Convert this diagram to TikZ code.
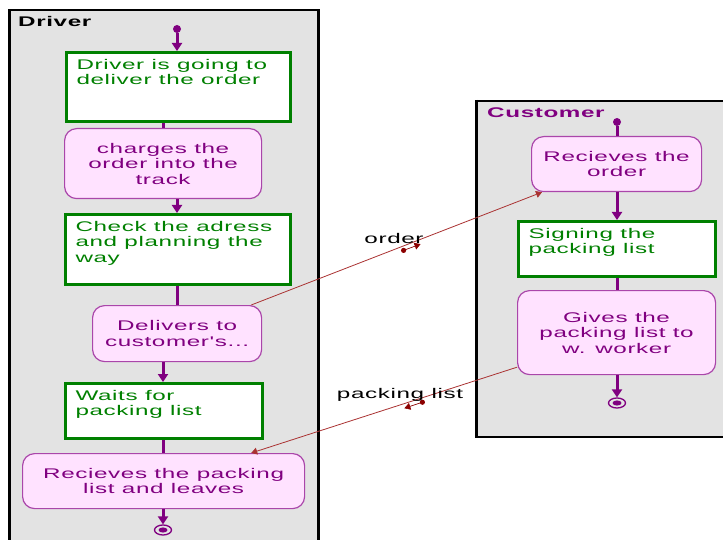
\documentclass[tikz,border=0pt]{standalone}
\usepackage{fontspec}
\usetikzlibrary{arrows.meta,calc,shapes.geometric}
\newfontfamily\uifont[FakeStretch=1.73,LetterSpace=4.5]{Liberation Sans}
\definecolor{lanegray}{RGB}{227,227,227}
\definecolor{actgreen}{RGB}{0,128,0}
\definecolor{actpurple}{RGB}{128,0,128}
\definecolor{pinkfill}{RGB}{255,226,255}
\definecolor{pinkline}{RGB}{170,70,170}
\definecolor{msgred}{RGB}{170,50,50}
\definecolor{msghead}{RGB}{140,0,0}
\begin{document}
\begin{tikzpicture}[x=1pt,y=-1pt,
  txt/.style={font=\uifont\fontsize{14}{15.5}\selectfont},
  greenbox/.style={txt,draw=actgreen,line width=3pt,fill=white,text=actgreen,
    anchor=north west,inner xsep=10pt,inner ysep=6.5pt,align=left},
  roundbox/.style={txt,draw=pinkline,line width=1.2pt,fill=pinkfill,text=actpurple,
    rounded corners=12pt,anchor=north west,align=center,inner sep=2pt},
  flow/.style={draw=actpurple,line width=3pt},
  flowarrow/.style={flow,-{Triangle[width=10pt,length=8pt]}},
  startdot/.style={circle,fill=actpurple,inner sep=0pt,minimum size=8pt},
  enddot/.style={draw=actpurple,line width=1.3pt,ellipse,minimum width=17pt,
    minimum height=10pt,inner sep=0pt},
  msg/.style={draw=msgred,line width=0.8pt,-{Triangle[width=7pt,length=6pt]}},
  dirmark/.style={draw=msghead,fill=msghead,line width=0.6pt},
  lanetitle/.style={font=\uifont\bfseries\fontsize{14}{16}\selectfont,anchor=west,inner sep=0pt}
]
\useasboundingbox (0,0) rectangle (723,540);
\fill[white] (0,0) rectangle (723,540);

% ---------- swimlanes ----------
\fill[lanegray] (9,10) rectangle (318,545);
\draw[black,line width=1.5pt] (9,10) -- (318,10);
\draw[black,line width=3pt] (9,9.25) -- (9,545);
\draw[black,line width=3pt] (318,9.25) -- (318,545);
\node[lanetitle] (drvtitle) at (18,21) {Driver};

\fill[lanegray] (476,101) rectangle (730,437);
\draw[black,line width=2pt] (476,101) -- (730,101);
\draw[black,line width=2pt] (476,437) -- (730,437);
\draw[black,line width=3pt] (476,100) -- (476,438);
\node[lanetitle,text=actpurple] (custtitle) at (487,113) {Customer};

% ---------- driver activities ----------
\node[startdot] (ds) at (177,29) {};
\node[greenbox] (b1) at (65,51)
  {\parbox[t][56pt][t]{204pt}{Driver is going to\\deliver the order}};
\node[roundbox,minimum width=197pt,minimum height=70pt] (b2) at (64,128)
  {charges the\\order into the\\track};
\node[greenbox] (b3) at (64,213)
  {\parbox[t][57pt][t]{205pt}{Check the adress\\and planning the\\way}};
\node[roundbox,minimum width=169pt,minimum height=56pt] (b4) at (92,305)
  {Delivers to\\customer's...};
\node[greenbox] (b5) at (64,382)
  {\parbox[t][42pt][t]{177pt}{Waits for\\packing list}};
\node[roundbox,minimum width=282pt,minimum height=55pt] (b6) at (22,453)
  {Recieves the packing\\list and leaves};
\node[enddot] (de) at (163,530) {};
\fill[actpurple] (de.center) ellipse (4.5pt and 2.6pt);

\draw[flowarrow] (ds) -- (b1.north -| ds);
\draw[flow] (b1.south -| de) -- (b2.north -| de);
\draw[flowarrow] (b2.south -| ds) -- (b3.north -| ds);
\draw[flow] (b3.south -| ds) -- (b4.north -| ds);
\draw[flowarrow] (b4.south -| de) -- (b5.north -| de);
\draw[flow] (b5.south -| de) -- (b6.north -| de);
\draw[flowarrow] (b6.south -| de) -- (de.north);

% ---------- customer activities ----------
\node[startdot] (cs) at (617,122) {};
\node[roundbox,minimum width=170pt,minimum height=55pt] (c1) at (531,136)
  {Recieves the\\order};
\node[greenbox] (c2) at (517,220)
  {\parbox[t][42pt][t]{177pt}{Signing the\\packing list}};
\node[roundbox,minimum width=198pt,minimum height=84pt] (c3) at (517,290)
  {Gives the\\packing list to\\w. worker};
\node[enddot] (ce) at (617,403) {};
\fill[actpurple] (ce.center) ellipse (4.5pt and 2.6pt);

\draw[flow] (cs) -- (c1.north -| cs);
\draw[flowarrow] (c1.south -| cs) -- (c2.north -| cs);
\draw[flow] (c2.south -| cs) -- (c3.north -| cs);
\draw[flowarrow] (c3.south -| cs) -- (ce.north);

% ---------- message flows ----------
\draw[msg] ([xshift=-11pt]b4.north east) -- ([xshift=11pt]c1.south west)
  coordinate[pos=0.524] (om);
\draw[msg] ([yshift=8pt]c3.south west) -- ([xshift=-54pt]b6.north east)
  coordinate[pos=0.356] (pm);

% direction markers beside the message lines
\draw[dirmark,-{Triangle[width=7pt,length=6pt]}] ($(om)+(0,4.5)$) -- ($(om)+(17,-1.8)$);
\fill[msghead] ($(om)+(0,4.5)$) circle (2.6pt);
\draw[dirmark,-{Triangle[width=7pt,length=6pt]}] ($(pm)+(0,4.5)$) -- ($(pm)+(-18,10.5)$);
\fill[msghead] ($(pm)+(0,4.5)$) circle (2.6pt);

\node[txt,inner sep=0pt] (olbl) at (394,238) {order};
\node[txt,inner sep=0pt] (plbl) at (400,395) {packing list};
\end{tikzpicture}
\end{document}
